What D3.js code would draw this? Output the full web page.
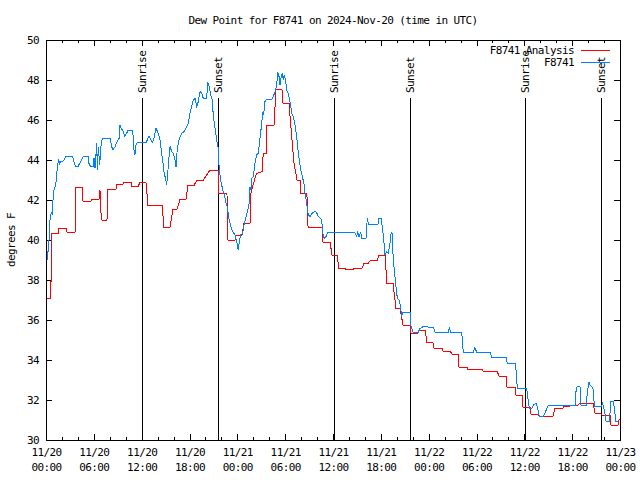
<!DOCTYPE html>
<html><head><meta charset="utf-8">
<script src="https://cdn.jsdelivr.net/npm/d3@7/dist/d3.min.js"></script>
<style>
body{margin:0;background:#fff}
svg text{font-family:"DejaVu Sans Mono",monospace;font-size:11px;letter-spacing:-0.6px;fill:#000}
</style></head><body>
<svg id="chart" width="640" height="480"></svg>
<script>
// ---------- data ----------
const chartTitle = "Dew Point for F8741 on 2024-Nov-20 (time in UTC)";
const yAxisLabel = "degrees F";
const seriesNames = ["F8741 Analysis", "F8741"];
const seriesColors = ["#ff0000", "#0080ff"];
const startUTC = Date.UTC(2024, 10, 20, 0, 0);
const spanHours = 72;
const yTickValues = [30, 32, 34, 36, 38, 40, 42, 44, 46, 48, 50];
const xMajorHours = [0, 6, 12, 18, 24, 30, 36, 42, 48, 54, 60, 66, 72];
const xMinorHours = [2, 4, 8, 10, 14, 16, 20, 22, 26, 28, 32, 34, 38, 40, 44, 46, 50, 52, 56, 58, 62, 64, 68, 70];
const sunEventHours = [12.08, 21.61, 36.16, 45.70, 60.12, 69.66];
const sunEventLabels = ["Sunrise", "Sunset", "Sunrise", "Sunset", "Sunrise", "Sunset"];

// [hours since 11/20 00:00 UTC, dew point °F]
const analysisSeries = [
[0.09,37.1],[0.56,37.1],[0.63,37.95],[0.70,37.95],[0.75,40.33],[1.51,40.33],[1.63,40.6],[2.51,40.6],[2.63,40.4],[3.64,40.4],[3.76,42.65],[4.52,42.65],[4.64,41.95],[5.64,41.95],[5.77,42.05],[6.65,42.05],[6.77,42.5],[6.90,41.37],[7.02,41.0],[7.65,41.0],[7.78,42.55],[8.78,42.55],[8.91,42.78],[9.66,42.78],[9.78,42.88],[10.66,42.88],[10.79,42.67],[11.54,42.67],[11.79,42.88],[12.54,42.88],[12.79,41.75],[14.55,41.75],[14.80,40.63],[15.55,40.63],[15.93,41.53],[16.43,41.53],[16.81,42.03],[17.56,42.03],[17.81,42.73],[18.57,42.73],[18.94,43.0],[19.73,43.0],[20.57,43.5],[21.58,43.5],[21.70,42.33],[22.70,42.33],[22.83,40.0],[23.71,40.0],[23.83,40.25],[24.59,40.25],[24.84,40.83],[25.59,40.83],[25.72,42.4],[26.40,43.33],[27.10,43.42],[27.25,44.33],[27.60,44.33],[27.72,45.75],[28.60,45.75],[28.85,47.53],[29.60,47.53],[29.73,46.83],[30.48,46.83],[30.86,45.0],[31.11,43.83],[31.49,43.0],[31.86,43.0],[31.95,42.33],[32.61,42.33],[32.74,42.17],[32.87,40.65],[34.62,40.65],[34.75,39.9],[35.62,39.9],[35.88,39.25],[36.50,39.25],[36.75,38.58],[37.51,38.58],[37.63,38.53],[38.51,38.53],[38.64,38.58],[39.64,38.58],[39.90,38.83],[40.39,38.83],[40.70,38.97],[41.52,38.97],[41.77,39.25],[42.52,39.25],[42.77,37.83],[43.53,37.83],[43.90,36.58],[44.41,36.58],[44.78,35.75],[45.66,35.75],[45.79,35.33],[46.54,35.33],[46.91,35.5],[47.54,35.5],[47.79,34.87],[48.54,34.87],[48.67,34.58],[49.67,34.58],[49.80,34.45],[50.68,34.45],[50.93,34.3],[51.68,34.3],[51.81,33.63],[52.81,33.63],[52.93,33.53],[54.69,33.53],[54.82,33.45],[56.57,33.45],[56.83,33.2],[57.70,33.2],[57.83,32.63],[58.83,32.63],[58.96,32.25],[59.71,32.25],[59.84,31.63],[60.71,31.63],[60.84,31.3],[61.59,31.3],[61.84,31.2],[63.60,31.2],[63.85,31.58],[64.85,31.58],[64.95,31.7],[65.73,31.7],[65.86,31.75],[66.73,31.75],[66.98,31.83],[68.62,31.83],[68.87,31.33],[69.49,31.33],[69.74,31.25],[70.75,31.25],[70.87,30.75],[71.75,30.75],[71.88,31.03]
];

const observedSeries = [
[0.16,39.0],[0.38,40.0],[0.50,41.0],[0.67,41.4],[0.79,41.25],[0.88,42.0],[1.00,42.5],[1.22,42.75],[1.34,43.17],[1.42,43.67],[1.59,44.03],[1.72,43.83],[1.84,43.92],[2.05,43.92],[2.26,44.0],[2.47,44.17],[2.67,44.2],[3.30,44.2],[3.51,43.92],[3.72,43.67],[4.01,43.67],[4.27,43.87],[4.68,44.17],[4.85,44.2],[5.27,44.2],[5.39,43.83],[5.60,43.67],[5.94,43.67],[6.02,44.08],[6.15,43.58],[6.36,44.83],[6.44,43.5],[6.56,44.67],[6.74,43.75],[6.86,44.58],[7.06,45.08],[8.03,45.08],[8.24,44.67],[8.40,44.5],[8.66,44.67],[8.94,44.92],[9.16,45.08],[9.28,45.75],[9.44,45.58],[9.70,45.42],[9.87,45.2],[10.12,45.33],[10.29,45.5],[10.83,45.5],[10.95,45.17],[11.04,44.5],[11.16,44.25],[11.29,44.75],[11.45,44.87],[12.54,44.87],[12.71,45.0],[12.92,45.2],[13.17,45.0],[13.38,44.88],[13.59,45.17],[13.80,45.58],[14.09,45.33],[14.30,45.0],[14.51,44.33],[14.64,44.0],[14.80,43.42],[15.02,43.0],[15.14,42.75],[15.27,43.33],[15.39,44.0],[15.56,44.67],[15.77,44.42],[15.97,44.33],[16.18,44.0],[16.31,43.67],[16.47,44.58],[16.72,45.08],[17.02,45.33],[17.31,45.42],[17.65,45.67],[17.85,45.83],[18.06,46.33],[18.28,46.67],[18.48,47.0],[18.69,47.08],[18.90,46.67],[19.10,46.92],[19.32,47.42],[19.53,47.33],[19.73,47.08],[20.16,47.08],[20.28,47.92],[20.48,47.67],[20.66,47.25],[20.86,47.0],[20.99,46.17],[21.20,45.58],[21.41,45.0],[21.61,44.58],[21.64,44.0],[21.83,43.25],[21.95,42.92],[22.17,42.5],[22.33,42.33],[22.58,41.83],[22.74,41.67],[22.87,41.25],[22.99,41.0],[23.17,40.67],[23.42,40.42],[23.71,40.25],[23.83,40.08],[24.00,39.75],[24.12,39.5],[24.25,39.92],[24.42,40.25],[24.67,40.33],[24.84,40.75],[25.09,41.17],[25.30,41.5],[25.46,41.75],[25.59,42.67],[25.71,42.5],[25.80,43.08],[26.01,43.17],[26.21,43.83],[26.42,44.25],[26.63,44.33],[26.84,45.08],[27.06,45.83],[27.18,46.42],[27.26,46.33],[27.38,46.5],[27.47,46.92],[27.68,47.03],[28.31,47.03],[28.51,47.17],[28.73,47.42],[28.94,47.75],[29.06,48.42],[29.23,48.17],[29.35,47.75],[29.48,48.08],[29.64,48.33],[29.77,48.0],[29.89,48.25],[30.07,47.92],[30.19,47.5],[30.39,47.33],[30.52,47.08],[30.69,46.75],[30.82,46.33],[31.02,46.17],[31.24,45.75],[31.45,45.17],[31.65,44.33],[31.78,44.0],[31.95,43.5],[32.15,43.17],[32.36,42.83],[32.49,42.33],[32.70,41.83],[32.90,41.25],[33.12,41.17],[33.33,41.33],[33.74,41.42],[33.95,41.37],[34.16,41.17],[34.58,41.03],[34.71,40.33],[34.91,40.08],[35.12,40.17],[35.34,40.37],[38.76,40.37],[38.97,40.17],[39.10,40.38],[39.26,40.17],[39.48,40.38],[39.60,40.08],[40.14,40.08],[40.30,41.08],[40.43,40.8],[41.65,40.8],[41.77,41.08],[42.02,41.08],[42.24,40.5],[42.40,39.83],[42.52,39.25],[42.74,39.42],[42.94,39.33],[43.15,39.83],[43.28,40.33],[43.40,40.38],[43.49,39.5],[43.65,38.67],[43.90,37.67],[44.07,37.08],[44.32,37.0],[44.49,36.58],[44.62,36.17],[44.70,36.38],[45.66,36.38],[45.79,35.67],[46.07,35.37],[46.66,35.37],[46.91,35.58],[47.33,35.67],[47.92,35.65],[48.58,35.65],[48.80,35.38],[50.47,35.38],[50.59,35.63],[50.77,35.38],[52.15,35.38],[52.27,34.67],[52.35,34.38],[53.60,34.38],[53.81,34.62],[54.03,34.38],[55.70,34.38],[55.91,34.13],[57.70,34.13],[57.87,33.83],[58.83,33.83],[58.96,33.5],[59.12,32.58],[60.30,32.58],[60.50,31.92],[60.63,31.58],[60.93,31.58],[61.13,31.75],[61.47,31.83],[61.63,31.67],[61.88,31.17],[62.38,31.17],[62.59,31.33],[62.81,31.58],[63.01,31.72],[66.36,31.7],[66.48,32.42],[66.65,32.7],[66.98,32.7],[67.07,31.75],[67.74,31.7],[67.90,32.33],[68.11,32.92],[68.24,32.75],[68.45,32.67],[68.66,32.5],[68.78,31.7],[69.71,31.7],[69.79,31.87],[69.91,31.7],[70.12,31.3],[70.25,30.92],[70.67,30.92],[70.84,31.92],[71.17,31.92],[71.30,31.58],[71.47,30.92],[71.80,30.92]
];

// ---------- layout ----------
const W = 640, H = 480;
const plot = {left: 46, right: 620, top: 40, bottom: 440};
const toDate = h => new Date(startUTC + h * 3600 * 1000);

const svg = d3.select("#chart");
svg.append("rect").attr("width", W).attr("height", H).attr("fill", "#fff");

const x = d3.scaleUtc().domain([toDate(0), toDate(spanHours)]).range([plot.left, plot.right]);
const y = d3.scaleLinear().domain([30, 50]).range([plot.bottom, plot.top]);

const fmtDay = d3.utcFormat("%m/%d");
const fmtTime = d3.utcFormat("%H:%M");

// sunrise / sunset lines (drawn first)
const sunG = svg.append("g");
sunEventHours.forEach((h, i) => {
  const sx = Math.round(x(toDate(h))) + 0.5;
  sunG.append("line").attr("x1", sx).attr("x2", sx).attr("y1", 98).attr("y2", plot.bottom)
    .attr("stroke", "#000").attr("stroke-width", 1).attr("shape-rendering", "crispEdges");
  sunG.append("text").attr("transform", `translate(${sx},93) rotate(-90)`)
    .attr("dy", "0.35em").attr("text-anchor", "start").text(sunEventLabels[i]);
});

// axes
const axG = svg.append("g").attr("shape-rendering", "crispEdges");
const styleAxis = g => { g.select(".domain").remove(); g.selectAll("line").attr("stroke", "#000"); };

axG.append("g").attr("transform", `translate(0,${plot.bottom})`)
  .call(d3.axisBottom(x).tickValues(xMajorHours.map(toDate)).tickSizeInner(-6).tickSizeOuter(0).tickPadding(6)
    .tickFormat(d => fmtDay(d)))
  .call(styleAxis)
  .call(g => g.selectAll(".tick text").each(function(d) {
      const t = d3.select(this); t.text(null).attr("font-size", null).attr("font-family", null).attr("fill", null).attr("y", null).attr("dy", null);
      t.append("tspan").attr("x", 0).attr("y", 16).text(fmtDay(d));
      t.append("tspan").attr("x", 0).attr("y", 31).text(fmtTime(d));
  }));
axG.append("g").attr("transform", `translate(0,${plot.bottom})`)
  .call(d3.axisBottom(x).tickValues(xMinorHours.map(toDate)).tickSizeInner(-3).tickSizeOuter(0).tickFormat(""))
  .call(styleAxis);
axG.append("g").attr("transform", `translate(0,${plot.top})`)
  .call(d3.axisTop(x).tickValues(xMajorHours.map(toDate)).tickSizeInner(-6).tickSizeOuter(0).tickFormat(""))
  .call(styleAxis);
axG.append("g").attr("transform", `translate(0,${plot.top})`)
  .call(d3.axisTop(x).tickValues(xMinorHours.map(toDate)).tickSizeInner(-3).tickSizeOuter(0).tickFormat(""))
  .call(styleAxis);
axG.append("g").attr("transform", `translate(${plot.left},0)`)
  .call(d3.axisLeft(y).tickValues(yTickValues).tickSizeInner(-6).tickSizeOuter(0).tickPadding(7).tickFormat(d3.format("d")))
  .call(styleAxis)
  .call(g => g.selectAll(".tick text").attr("font-size", null).attr("font-family", null).attr("fill", null));
axG.append("g").attr("transform", `translate(${plot.right},0)`)
  .call(d3.axisRight(y).tickValues(yTickValues).tickSizeInner(-6).tickSizeOuter(0).tickFormat(""))
  .call(styleAxis);

// series lines
const line = d3.line().x(d => x(toDate(d[0]))).y(d => y(d[1]));
[analysisSeries, observedSeries].forEach((s, i) => {
  svg.append("path").datum(s).attr("d", line).attr("fill", "none")
    .attr("stroke", seriesColors[i]).attr("stroke-width", 1).attr("shape-rendering", "crispEdges");
});

// border
svg.append("rect").attr("x", plot.left + 0.5).attr("y", plot.top + 0.5)
  .attr("width", plot.right - plot.left).attr("height", plot.bottom - plot.top)
  .attr("fill", "none").attr("stroke", "#000").attr("stroke-width", 1).attr("shape-rendering", "crispEdges");

// legend
const legendY = [50, 62];
seriesNames.forEach((n, i) => {
  svg.append("text").attr("x", 574).attr("y", legendY[i]).attr("dy", "0.35em").attr("text-anchor", "end").text(n);
  svg.append("line").attr("x1", 581).attr("x2", 610).attr("y1", legendY[i] + 0.5).attr("y2", legendY[i] + 0.5)
    .attr("stroke", seriesColors[i]).attr("stroke-width", 1).attr("shape-rendering", "crispEdges");
});

// title and y label
svg.append("text").attr("x", (plot.left + plot.right) / 2).attr("y", 20).attr("dy", "0.35em")
  .attr("text-anchor", "middle").text(chartTitle);
svg.append("text").attr("transform", `translate(11,${(plot.top + plot.bottom) / 2}) rotate(-90)`)
  .attr("dy", "0.35em").attr("text-anchor", "middle").text(yAxisLabel);
</script>
</body></html>
